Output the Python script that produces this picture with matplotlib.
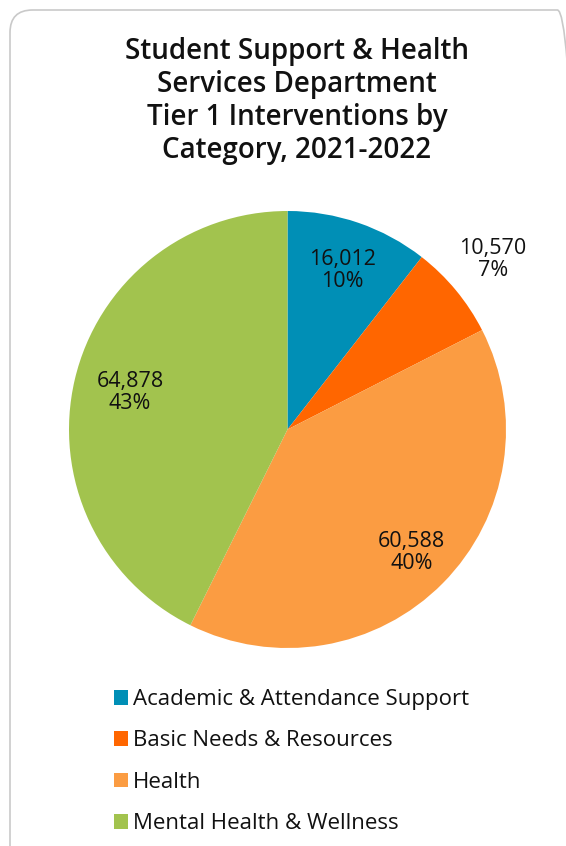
import matplotlib
matplotlib.use("Agg")
import matplotlib.pyplot as plt
import numpy as np
from matplotlib.patches import FancyBboxPatch, Patch

categories = [
    "Academic & Attendance Support",
    "Basic Needs & Resources",
    "Health",
    "Mental Health & Wellness",
]
counts = [16012, 10570, 60588, 64878]
percent_labels = ["10%", "7%", "40%", "43%"]
colors = ["#008fb6", "#ff6600", "#fb9c42", "#a2c34e"]
label_radius = [0.77, 1.22, 0.80, 0.74]

W, H = 566, 846
fig = plt.figure(figsize=(W / 100, H / 100), dpi=100)
fig.patch.set_facecolor("white")
plt.rcParams["font.family"] = ["Open Sans", "DejaVu Sans"]

# card outline, running off the right and bottom edges
card = FancyBboxPatch(
    (10 / W, -30 / H), 570 / W, 866 / H,
    boxstyle="round,pad=0,rounding_size=0.04",
    transform=fig.transFigure, facecolor="none",
    edgecolor="#c9c9c9", linewidth=1.2, mutation_aspect=W / H, zorder=-1,
)
fig.patches.append(card)

fig.text(
    297 / W, 1 - 101 / H,
    "Student Support & Health\nServices Department\nTier 1 Interventions by\nCategory, 2021-2022",
    ha="center", va="center", fontsize=20, fontweight="semibold",
    linespacing=1.17, color="#111111",
)

cx, cy, r = 287.5, 429.5, 218.5
ax = fig.add_axes([(cx - r) / W, 1 - (cy + r) / H, 2 * r / W, 2 * r / H])
wedges, _ = ax.pie(counts, colors=colors, startangle=90, counterclock=False,
                   wedgeprops=dict(linewidth=0))
ax.set_xlim(-1, 1)
ax.set_ylim(-1, 1)
ax.set_aspect("equal")
ax.axis("off")

for w, n, pct, rr in zip(wedges, counts, percent_labels, label_radius):
    mid = np.deg2rad((w.theta1 + w.theta2) / 2)
    ax.text(rr * np.cos(mid), rr * np.sin(mid), f"{n:,}\n{pct}",
            ha="center", va="center", fontsize=15.5, color="#111111",
            linespacing=1.1)

handles = [Patch(facecolor=c, edgecolor="none") for c in colors]
fig.legend(handles, categories, loc="upper left",
           bbox_to_anchor=(105 / W, 1 - 680 / H), frameon=False,
           fontsize=16, handlelength=0.65, handleheight=0.65,
           handletextpad=0.2, labelspacing=0.92, borderaxespad=0,
           labelcolor="#111111")

fig.savefig("out.png", dpi=100)
